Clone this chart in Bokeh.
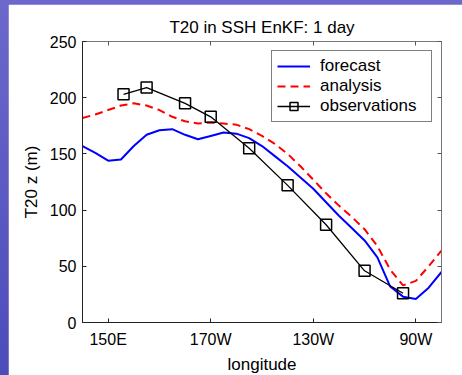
from bokeh.plotting import figure
from bokeh.models import (Range1d, FixedTicker, LinearAxis, Legend, LegendItem)
from bokeh.embed import file_html
from bokeh.resources import INLINE

# ---- data ----
lon = [140, 145, 150, 155, 160, 165, 170, 175, 180, 185, 190, 195, 200, 205, 210,
       215, 220, 225, 230, 235, 240, 245, 250, 255, 260, 265, 270, 275, 280]
forecast = [157, 151, 144, 145, 157, 167, 171, 172, 167, 163, 166, 169, 168, 164, 157,
            148, 139, 129, 119, 107, 95, 84, 73, 58, 32, 23, 21, 31, 45]
analysis = [182, 185, 189, 193, 195, 193, 189, 183, 179, 177, 178, 177, 176, 172, 166,
            159, 150, 139, 127, 115, 104, 94, 83, 68, 47, 33, 37, 50, 64]
obs_lon = [156, 165, 180, 190, 205, 220, 235, 250, 265]
obs_val = [203, 209, 195, 183, 155, 122, 87, 46, 26]

x_ticks = [150, 190, 230, 270]
x_tick_labels = ["150E", "170W", "130W", "90W"]
y_ticks = [0, 50, 100, 150, 200, 250]

FONT = "Liberation Sans"

p = figure(width=454, height=369, output_backend="svg", toolbar_location=None,
           x_range=Range1d(140, 280), y_range=Range1d(0, 250),
           title="T20 in SSH EnKF: 1 day",
           min_border_left=74, min_border_right=21, min_border_top=37,
           min_border_bottom=51, frame_width=359, frame_height=281)
p.margin = (4, 0, 0, 8)
p.background_fill_color = "white"
p.border_fill_color = "white"
p.outline_line_color = "#777777"
p.outline_line_width = 1
p.grid.visible = False

p.title.align = "center"
p.title.vertical_align = "top"
p.title.text_font = FONT
p.title.text_font_size = "17px"
p.title.text_font_style = "normal"
p.title.text_color = "black"
p.title.standoff = 5

xa = p.xaxis[0]
xa.ticker = FixedTicker(ticks=x_ticks)
xa.major_label_overrides = {t: l for t, l in zip(x_ticks, x_tick_labels)}
ya = p.yaxis[0]
ya.ticker = FixedTicker(ticks=y_ticks)
for ax in (xa, ya):
    ax.major_tick_in = 4
    ax.major_tick_out = 0
    ax.minor_tick_line_color = None
    ax.axis_line_color = "#222222"
    ax.major_tick_line_color = "#222222"
    ax.major_label_text_font = FONT
    ax.major_label_text_font_size = "16px"
    ax.major_label_text_color = "black"
    ax.axis_label_text_font = FONT
    ax.axis_label_text_font_size = "17px"
    ax.axis_label_text_font_style = "normal"
    ax.axis_label_text_color = "black"
xa.axis_label = "longitude"
ya.axis_label = "T20 z (m)"
xa.major_label_standoff = 8
xa.axis_label_standoff = 4
ya.major_label_standoff = 6
ya.axis_label_standoff = 6

# mirrored axes (ticks only, no labels drawn)
top = LinearAxis(ticker=FixedTicker(ticks=x_ticks))
right = LinearAxis(ticker=FixedTicker(ticks=y_ticks))
for ax in (top, right):
    ax.major_tick_in = 4
    ax.major_tick_out = 0
    ax.minor_tick_line_color = None
    ax.axis_line_color = "#777777"
    ax.major_tick_line_color = "#555555"
    ax.major_label_text_color = None
    ax.major_label_text_font_size = "1px"
    ax.major_label_standoff = 0
p.add_layout(top, "above")
p.add_layout(right, "right")

r_f = p.line(lon, forecast, line_color="#0000ff", line_width=2)
r_a = p.line(lon, analysis, line_color="#ff0000", line_width=2, line_dash="8 5")
r_o = p.line(obs_lon, obs_val, line_color="black", line_width=1.3)
r_s = p.scatter(obs_lon, obs_val, marker="square", size=11, fill_color=None,
                line_color="black", line_width=1.5)

legend = Legend(items=[LegendItem(label="forecast", renderers=[r_f]),
                       LegendItem(label="analysis", renderers=[r_a]),
                       LegendItem(label="observations", renderers=[r_o, r_s])],
                location="top_right")
legend.margin = 9
legend.padding = 5
legend.spacing = 0
legend.glyph_width = 33
legend.glyph_height = 20
legend.label_height = 20
legend.label_width = 106
legend.label_standoff = 10
legend.label_text_font = FONT
legend.label_text_font_size = "17px"
legend.label_text_color = "black"
legend.border_line_color = "black"
legend.border_line_width = 1
legend.background_fill_color = "white"
legend.background_fill_alpha = 1
p.add_layout(legend)

html = file_html(p, INLINE)
css = ("<style>html,body{margin:0;padding:0;width:462px;height:375px;overflow:hidden;"
       "background:linear-gradient(to bottom,#6c68cc,#4c4cba);}</style>")
html = html.replace("</head>", css + "</head>", 1)
open("out.html", "w").write(html)
